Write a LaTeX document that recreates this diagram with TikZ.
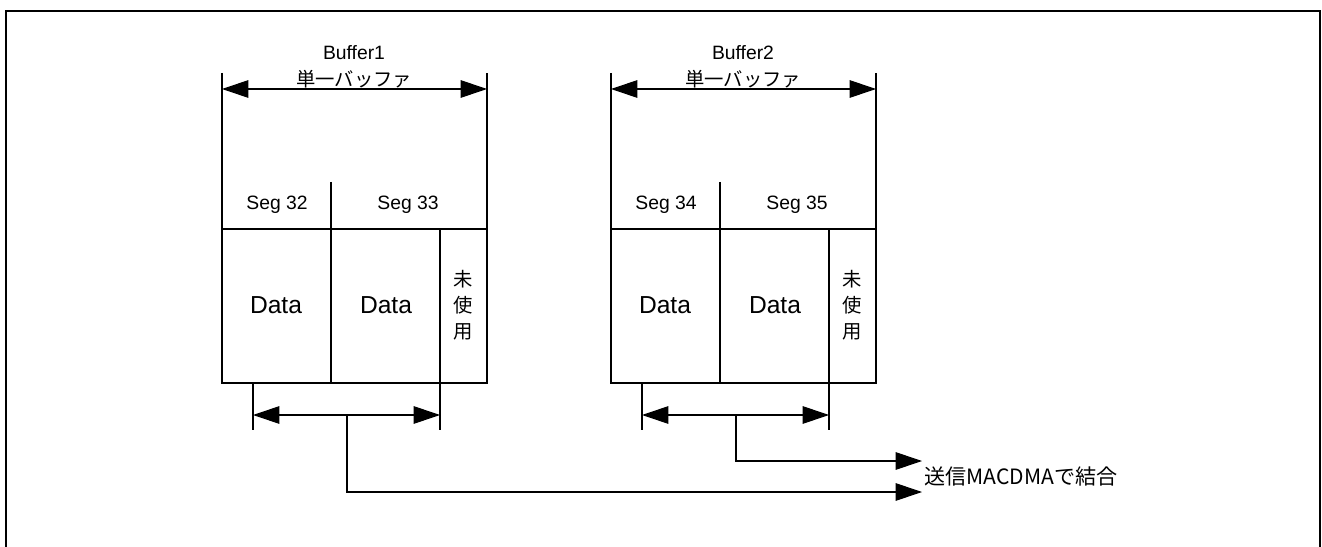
\documentclass[tikz,border=0pt]{standalone}
\usepackage{fontspec}
\setmainfont{Liberation Sans}
\newfontfamily\jp{Noto Sans CJK JP}
\usetikzlibrary{arrows.meta}

\begin{document}
\begin{tikzpicture}[x=0.02cm,y=-0.02cm,line width=0.6pt,
    tri/.style={-{Triangle[length=15pt,width=10pt]}},
    dim/.style={{Triangle[length=15pt,width=10pt]}-{Triangle[length=15pt,width=10pt]}},
    seglabel/.style={inner sep=0pt,font=\fontsize{11}{13}\selectfont},
    datalabel/.style={inner sep=0pt,font=\fontsize{14}{16}\selectfont},
    jplabel/.style={inner sep=0pt,font=\jp\fontsize{11}{14.7}\selectfont}]
    \useasboundingbox (0,0) rectangle (1322,547);
    \draw[line width=1.2pt] (6,570) -- (6,11) -- (1320,11) -- (1320,570);

    % Buffer1
    \draw (222,73) -- (222,383) -- (487,383) -- (487,73);
    \draw (222,229) -- (487,229);
    \draw (331,182) -- (331,383);
    \draw (440,229) -- (440,430);
    \draw (253,383) -- (253,430);
    \coordinate (b1l) at (222,89);
    \coordinate (b1r) at (487,89);
    \draw[dim] (b1l) -- (b1r);
    \node[seglabel] (buf1) at (354,53) {Buffer1};
    \node[jplabel] (single1) at (354,79) {単一バッファ};
    \node[seglabel] (seg32) at (277,205) {Seg 32};
    \node[seglabel] (seg33) at (408,205) {Seg 33};
    \node[datalabel] (data32) at (276,305) {Data};
    \node[datalabel] (data33) at (386,305) {Data};
    \node[jplabel,align=center] (unused1) at (463,305) {未\\使\\用};
    \coordinate (c1l) at (253,415);
    \coordinate (c1r) at (440,415);
    \coordinate (c1m) at (347,415);
    \draw[dim] (c1l) -- (c1r);

    % Buffer2
    \draw (611,73) -- (611,383) -- (876,383) -- (876,73);
    \draw (611,229) -- (876,229);
    \draw (720,182) -- (720,383);
    \draw (829,229) -- (829,430);
    \draw (642,383) -- (642,430);
    \coordinate (b2l) at (611,89);
    \coordinate (b2r) at (876,89);
    \draw[dim] (b2l) -- (b2r);
    \node[seglabel] (buf2) at (743,53) {Buffer2};
    \node[jplabel] (single2) at (743,79) {単一バッファ};
    \node[seglabel] (seg34) at (666,205) {Seg 34};
    \node[seglabel] (seg35) at (797,205) {Seg 35};
    \node[datalabel] (data34) at (665,305) {Data};
    \node[datalabel] (data35) at (775,305) {Data};
    \node[jplabel,align=center] (unused2) at (852,305) {未\\使\\用};
    \coordinate (c2l) at (642,415);
    \coordinate (c2r) at (829,415);
    \coordinate (c2m) at (736,415);
    \draw[dim] (c2l) -- (c2r);

    % join
    \node[inner sep=0pt,font=\jp\fontsize{12}{14}\selectfont,anchor=west] (join) at (924,477) {送信MACDMAで結合};
    \coordinate (join1) at (922,461);
    \coordinate (join2) at (922,492);
    \draw[tri] (c2m) |- (join1);
    \draw[tri] (c1m) |- (join2);
\end{tikzpicture}
\end{document}
